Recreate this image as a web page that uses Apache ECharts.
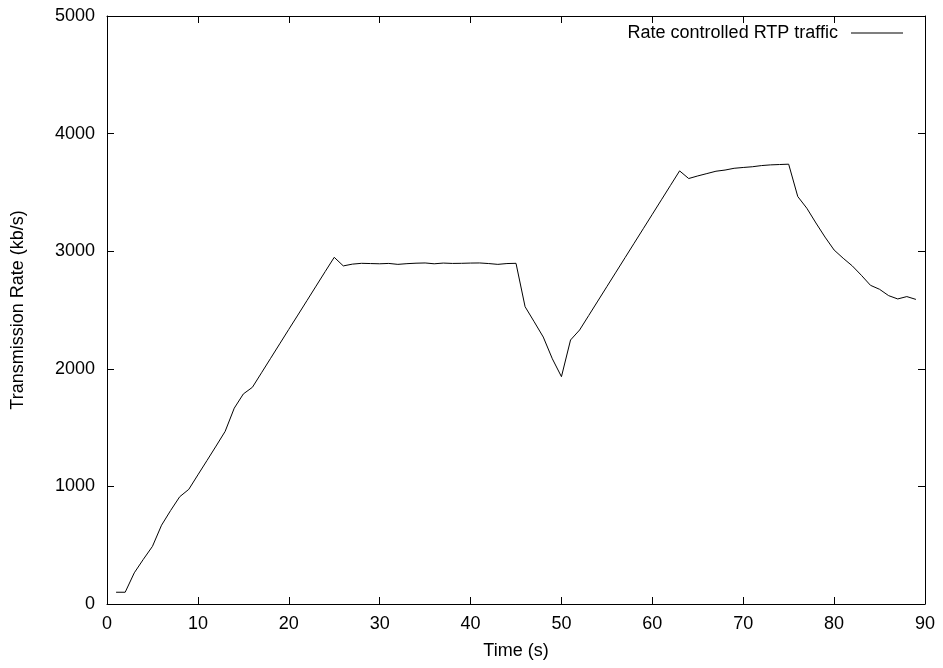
<!DOCTYPE html>
<html>
<head>
<meta charset="utf-8">
<script src="https://cdn.jsdelivr.net/npm/echarts@6/dist/echarts.min.js"></script>
<style>
html,body{margin:0;padding:0;background:#fff;}
#chart{width:943px;height:668px;}
</style>
</head>
<body>
<div id="chart"></div>
<script>
const seriesName = 'Rate controlled RTP traffic';
const xTicks = [0, 10, 20, 30, 40, 50, 60, 70, 80, 90];
const yTicks = [0, 1000, 2000, 3000, 4000, 5000];
const times = [
  1, 2, 3, 4, 5, 6, 7, 8, 9, 10,
  11, 12, 13, 14, 15, 16, 17, 18, 19, 20,
  21, 22, 23, 24, 25, 26, 27, 28, 29, 30,
  31, 32, 33, 34, 35, 36, 37, 38, 39, 40,
  41, 42, 43, 44, 45, 46, 47, 48, 49, 50,
  51, 52, 53, 54, 55, 56, 57, 58, 59, 60,
  61, 62, 63, 64, 65, 66, 67, 68, 69, 70,
  71, 72, 73, 74, 75, 76, 77, 78, 79, 80,
  81, 82, 83, 84, 85, 86, 87, 88, 89
];
const rates = [
  100, 100, 265, 380, 490, 670, 795, 912, 975, 1098,
  1220, 1343, 1468, 1665, 1786, 1843, 1966, 2089, 2212, 2335,
  2457, 2580, 2703, 2826, 2948, 2875, 2890, 2897, 2895, 2893,
  2896, 2888, 2894, 2898, 2900, 2893, 2899, 2896, 2897, 2899,
  2900, 2895, 2888, 2895, 2897, 2528, 2400, 2270, 2085, 1933,
  2245, 2330, 2453, 2576, 2699, 2822, 2945, 3068, 3191, 3314,
  3437, 3560, 3683, 3618, 3640, 3660, 3680, 3690, 3705, 3712,
  3718, 3728, 3734, 3737, 3740, 3465, 3365, 3240, 3120, 3010,
  2940, 2875, 2795, 2710, 2676, 2622, 2594, 2614, 2590
];

const FONT = 'Liberation Sans, Arial, Helvetica, sans-serif';
const data = times.map((t, i) => [t, rates[i]]);

const chart = echarts.init(document.getElementById('chart'), null, {renderer: 'canvas'});

function axisBase(extra) {
  return Object.assign({
    type: 'value',
    splitLine: {show: false},
    axisLine: {show: true, onZero: false, lineStyle: {color: '#000', width: 1}},
    axisTick: {show: true, inside: true, length: 7, lineStyle: {color: '#000', width: 1}},
  }, extra);
}

const xMin = xTicks[0], xMax = xTicks[xTicks.length - 1], xInt = xTicks[1] - xTicks[0];
const yMin = yTicks[0], yMax = yTicks[yTicks.length - 1], yInt = yTicks[1] - yTicks[0];
const plain = v => String(v);

chart.setOption({
  animation: false,
  backgroundColor: '#fff',
  textStyle: {fontFamily: FONT},
  grid: {left: 107, right: 18, top: 16, bottom: 64, containLabel: false},
  legend: {
    data: [seriesName],
    right: 40,
    top: 24,
    padding: 0,
    align: 'right',
    icon: 'rect',
    itemWidth: 52,
    itemHeight: 1,
    selectedMode: false,
    textStyle: {fontFamily: FONT, fontSize: 18, color: '#000', padding: [0, 8, 0, 0], lineHeight: 18}
  },
  xAxis: [
    axisBase({
      position: 'bottom', min: xMin, max: xMax, interval: xInt,
      name: 'Time (s)', nameLocation: 'middle', nameGap: 38,
      nameTextStyle: {fontFamily: FONT, fontSize: 18, color: '#000'},
      axisLabel: {show: true, margin: 11, fontFamily: FONT, fontSize: 18, color: '#000', formatter: plain}
    }),
    axisBase({
      position: 'top', min: xMin, max: xMax, interval: xInt,
      axisLabel: {show: false}
    })
  ],
  yAxis: [
    axisBase({
      position: 'left', min: yMin, max: yMax, interval: yInt,
      name: 'Transmission Rate (kb/s)', nameLocation: 'middle', nameGap: 80,
      nameTextStyle: {fontFamily: FONT, fontSize: 18, color: '#000'},
      axisLabel: {show: true, margin: 12, fontFamily: FONT, fontSize: 18, color: '#000', formatter: plain}
    }),
    axisBase({
      position: 'right', min: yMin, max: yMax, interval: yInt,
      axisLabel: {show: false}
    })
  ],
  series: [{
    name: seriesName,
    type: 'line',
    xAxisIndex: 0,
    yAxisIndex: 0,
    data: data,
    showSymbol: false,
    symbol: 'none',
    lineStyle: {color: '#000', width: 1},
    itemStyle: {color: '#000'}
  }]
});
</script>
</body>
</html>
